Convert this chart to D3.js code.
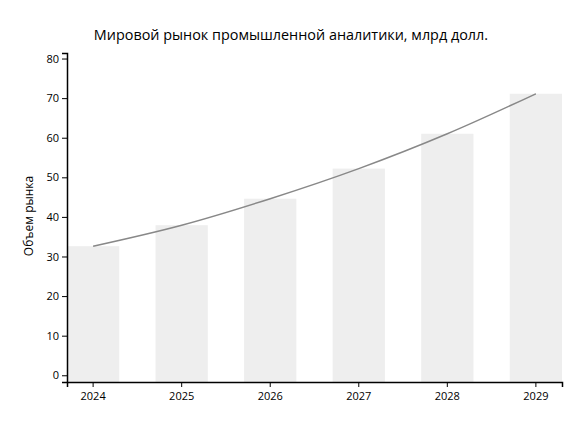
<!DOCTYPE html>
<html>
<head>
<meta charset="utf-8">
<script src="https://cdn.jsdelivr.net/npm/d3@7"></script>
<style>
  body { margin: 0; background: #fff; }
  svg text { font-family: "Open Sans", sans-serif; fill: #000; }
</style>
</head>
<body>
<div id="chart"></div>
<script>
// данные графика
const years = ["2024", "2025", "2026", "2027", "2028", "2029"];
const marketValues = [32.6, 37.9, 44.6, 52.2, 61.0, 71.1];
const yTicks = [0, 10, 20, 30, 40, 50, 60, 70, 80];

function chart() {
  const width = 581;
  const height = 426;

  const svg = d3.select("#chart")
    .append("svg")
    .attr("width", width)
    .attr("height", height);

  // заголовок
  svg.append("text")
    .attr("x", 291)
    .attr("y", 40)
    .attr("text-anchor", "middle")
    .style("font-size", "14.4px")
    .text("Мировой рынок промышленной аналитики, млрд долл.");

  // шкалы
  const x = d3.scaleBand()
    .domain(years)
    .range([67, 562])
    .paddingInner(0.41)
    .paddingOuter(0);

  const y = d3.scaleLinear()
    .domain([-1.7, 81.4])
    .range([382, 53]);

  // столбцы
  svg.selectAll("rect.bar")
    .data(years)
    .enter()
    .append("rect")
    .attr("class", "bar")
    .attr("x", d => x(d))
    .attr("y", (d, i) => y(marketValues[i]))
    .attr("width", x.bandwidth())
    .attr("height", (d, i) => y(-1.7) - y(marketValues[i]))
    .attr("fill", "#eeeeee");

  // линия тренда
  const line = d3.line()
    .x((d, i) => x(years[i]) + x.bandwidth() / 2)
    .y(d => y(d))
    .curve(d3.curveMonotoneX);

  svg.append("path")
    .datum(marketValues)
    .attr("d", line)
    .attr("fill", "none")
    .attr("stroke", "#888888")
    .attr("stroke-width", 1.5);

  // оси
  const xAxis = svg.append("g")
    .attr("transform", "translate(0,382)")
    .call(d3.axisBottom(x).tickSizeOuter(0).tickSize(5).tickPadding(5));
  xAxis.selectAll("text").style("font-size", "11px");
  xAxis.select(".domain").attr("stroke-width", 1.5);

  const yAxis = svg.append("g")
    .attr("transform", "translate(67,0)")
    .call(d3.axisLeft(y).tickValues(yTicks).tickSizeOuter(0).tickSize(5).tickPadding(3));
  yAxis.selectAll("text").style("font-size", "11px");
  yAxis.select(".domain").attr("stroke-width", 1.5);

  // подпись оси Y
  svg.append("text")
    .attr("transform", "translate(33,216) rotate(-90)")
    .attr("text-anchor", "middle")
    .style("font-size", "12px")
    .text("Объем рынка");
}

chart();
</script>
</body>
</html>
